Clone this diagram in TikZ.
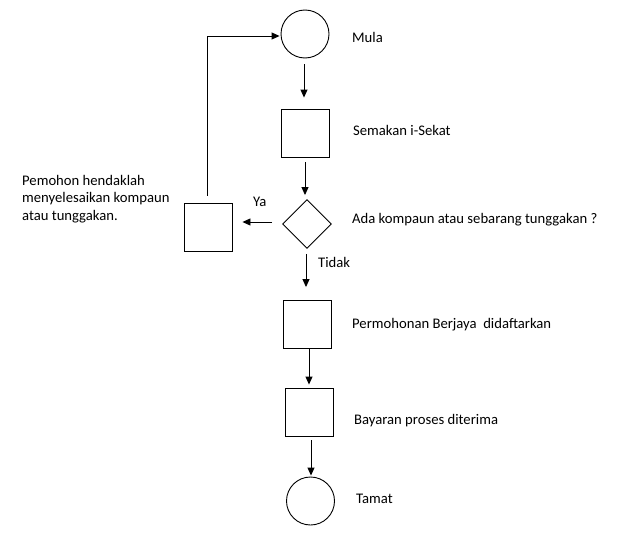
\documentclass[tikz,border=0pt]{standalone}
\usepackage{fontspec}
\setmainfont{Carlito}
\usetikzlibrary{arrows.meta,shapes.geometric}
\begin{document}
\begin{tikzpicture}[x=1pt,y=-1pt,
  every node/.style={font=\fontsize{14.67}{17.5}\selectfont},
  lbl/.style={anchor=base west,inner sep=0pt},
  circ/.style={draw,circle,minimum size=48pt,inner sep=0pt,line width=0.9pt},
  sq/.style={draw,rectangle,minimum width=48pt,minimum height=48pt,inner sep=0pt,line width=0.9pt},
  dia/.style={draw,diamond,minimum size=49pt,inner sep=0pt,line width=0.9pt},
  arr/.style={line width=0.9pt,-{Triangle[length=8pt,width=7pt]}},
  ln/.style={line width=0.9pt}]
\useasboundingbox[fill=white] (0,0) rectangle (627,546);
% shapes
\node[circ] (mula) at (305,34) {};
\node[sq] (semakan) at (305,133) {};
\node[dia] (ada) at (307,224) {};
\node[sq] (kiri) at (208,227) {};
\node[sq] (permohonan) at (307.5,324.5) {};
\node[sq] (bayaran) at (309.5,412) {};
\node[circ] (tamat) at (310.5,501) {};
% labels
\node[lbl] (tmula) at (352,42) {Mula};
\node[lbl] (tsemakan) at (353,135) {Semakan i-Sekat};
\node[lbl] (tada) at (352,223) {Ada kompaun atau sebarang tunggakan ?};
\node[lbl] (tperm) at (352,328) {Permohonan Berjaya\ \ didaftarkan};
\node[lbl] (tbay) at (354,424) {Bayaran proses diterima};
\node[lbl] (ttamat) at (356,503) {Tamat};
\node[lbl] (tya) at (253,206) {Ya};
\node[lbl] (ttidak) at (318,267) {Tidak};
\node[anchor=north west,inner sep=0pt,align=left] (tkiri) at (22,175)
  {Pemohon hendaklah\\menyelesaikan kompaun\\atau tunggakan.};
% connectors
\draw[arr] ([xshift=-1pt,yshift=-6pt]mula.south) -- ([xshift=-1pt,yshift=11pt]semakan.north);
\draw[arr] ([yshift=-5pt]semakan.south) -- ([xshift=-2pt,yshift=4pt]ada.north);
\draw[arr] ([xshift=-10pt,yshift=2pt]ada.west) -- ([xshift=10pt,yshift=5pt]kiri.east);
\draw[arr] ([xshift=-1pt,yshift=-5pt]ada.south) -- ([xshift=-1.5pt,yshift=13pt]permohonan.north);
\draw[arr] ([xshift=1.5pt]permohonan.south) -- ([xshift=-0.5pt,yshift=3pt]bayaran.north);
\draw[arr] ([xshift=1.5pt,yshift=-4pt]bayaran.south) -- ([xshift=0.5pt,yshift=1pt]tamat.north);
\draw[arr] ([xshift=-1pt,yshift=7pt]kiri.north) |- ([xshift=-1pt,yshift=-2pt]mula.west);
\end{tikzpicture}
\end{document}
